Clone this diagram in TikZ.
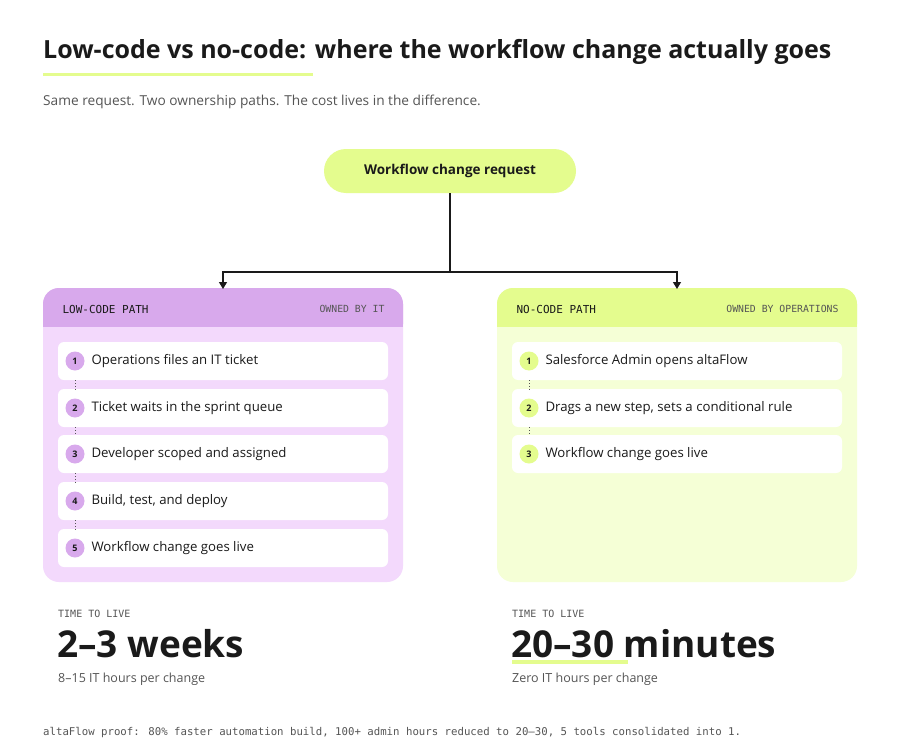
\documentclass[tikz,border=0pt]{standalone}
\usepackage{fontspec}
\setmainfont{Open Sans}
\newfontfamily\monof{DejaVu Sans Mono}
\usetikzlibrary{arrows.meta}
\definecolor{lime}{HTML}{E4FC8E}
\definecolor{limebody}{HTML}{F5FFD6}
\definecolor{purp}{HTML}{D8A9EC}
\definecolor{purpbody}{HTML}{F3D9FC}
\definecolor{txt}{HTML}{1A1A1A}
\definecolor{grayt}{HTML}{555555}
\tikzset{
  card/.style={fill=white,rounded corners=6pt,minimum width=330pt,minimum height=38pt,inner sep=0pt},
  num/.style={circle,minimum size=19pt,inner sep=0pt,font=\fontsize{9}{9}\selectfont\bfseries,text=txt},
  steptext/.style={anchor=west,font=\fontsize{13.2}{13}\selectfont,text=txt},
  hdr/.style={font=\monof\fontsize{11}{10}\selectfont,text=txt},
  hdrr/.style={font=\monof\fontsize{9.8}{9}\selectfont,text=grayt},
  dots/.style={draw=grayt,dotted,line width=0.8pt},
  conn/.style={draw=txt,line width=1.2pt},
}
\begin{document}
\begin{tikzpicture}[x=1pt,y=-1pt]
\useasboundingbox[fill=white] (0,0) rectangle (900,752);
\node[anchor=base west,font=\fontsize{25}{25}\selectfont\bfseries,text=txt,inner sep=0pt] (title) at (43,59) {Low-code vs no-code: where the workflow change actually goes};
\fill[lime] (43,73.5) rectangle (313,76.5);
\node[anchor=base west,font=\fontsize{13.7}{14}\selectfont,text=grayt,inner sep=0pt] (sub) at (43,106) {Same request. Two ownership paths. The cost lives in the difference.};
\node[fill=lime,rounded corners=22pt,minimum width=252pt,minimum height=44pt,font=\fontsize{13.5}{13}\selectfont\bfseries,text=txt] (req) at (450,171) {Workflow change request};
\coordinate (j) at (450,272);
\coordinate (l) at (223,272);
\coordinate (r) at (677,272);
\fill[purpbody,rounded corners=16pt] (43,288) rectangle (403,582);
\fill[purp,rounded corners=16pt] (43,288) rectangle (403,340);
\fill[purp] (43,315) rectangle (403,327);
\fill[purpbody] (43,327) rectangle (403,345);
\fill[limebody,rounded corners=16pt] (497,288) rectangle (857,582);
\fill[lime,rounded corners=16pt] (497,288) rectangle (857,340);
\fill[lime] (497,315) rectangle (857,327);
\fill[limebody] (497,327) rectangle (857,345);
\coordinate (lp) at (223,289);
\coordinate (rp) at (677,289);
\draw[conn] (req.south) -- (j);
\draw[conn,-{Triangle[length=7pt,width=8pt]}] (j) -- (l) -- (lp);
\draw[conn,-{Triangle[length=7pt,width=8pt]}] (j) -- (r) -- (rp);
\node[hdr,anchor=west] (lh) at (59,309) {LOW-CODE PATH};
\node[hdrr,anchor=east] (lo) at (388,309) {OWNED BY IT};
\node[hdr,anchor=west] (rh) at (513,309) {NO-CODE PATH};
\node[hdrr,anchor=east] (ro) at (842,309) {OWNED BY OPERATIONS};
\foreach \i/\y/\t in {1/361/Operations files an IT ticket,2/408/Ticket waits in the sprint queue,3/454/Developer scoped and assigned,4/501/{Build, test, and deploy},5/548/Workflow change goes live}{
  \node[card] (lc\i) at (223,\y) {};
  \node[num,fill=purp] (ln\i) at (75,\y) {\i};
  \node[steptext] (lt\i) at (88,\y) {\t};
}
\foreach \a/\b in {1/2,2/3,3/4,4/5}{\draw[dots] (ln\a.south|-lc\a.south) -- (ln\b.north|-lc\b.north);}
\foreach \i/\y/\t in {1/361/Salesforce Admin opens altaFlow,2/408/{Drags a new step, sets a conditional rule},3/454/Workflow change goes live}{
  \node[card] (rc\i) at (677,\y) {};
  \node[num,fill=lime] (rn\i) at (529,\y) {\i};
  \node[steptext] (rt\i) at (542,\y) {\t};
}
\foreach \a/\b in {1/2,2/3}{\draw[dots] (rn\a.south|-rc\a.south) -- (rn\b.north|-rc\b.north);}
\node[anchor=base west,inner sep=0pt,font=\monof\fontsize{10}{10}\selectfont,text=grayt] (ltl) at (58,617) {TIME TO LIVE};
\node[anchor=base west,inner sep=0pt,font=\fontsize{37}{37}\selectfont\bfseries,text=txt] (lbig) at (57,657) {2–3 weeks};
\node[anchor=base west,inner sep=0pt,font=\fontsize{12.5}{12.5}\selectfont,text=grayt] (lsm) at (58,682) {8–15 IT hours per change};
\fill[lime] (512,660) rectangle (628,664);
\node[anchor=base west,inner sep=0pt,font=\monof\fontsize{10}{10}\selectfont,text=grayt] (rtl) at (512,617) {TIME TO LIVE};
\node[anchor=base west,inner sep=0pt,font=\fontsize{37}{37}\selectfont\bfseries,text=txt] (rbig) at (511,657) {20–30 minutes};
\node[anchor=base west,inner sep=0pt,font=\fontsize{12.5}{12.5}\selectfont,text=grayt] (rsm) at (512,682) {Zero IT hours per change};
\node[anchor=base west,inner sep=0pt,font=\monof\fontsize{10.7}{10}\selectfont,text=grayt] (foot) at (43,735) {altaFlow proof: 80\% faster automation build, 100+ admin hours reduced to 20–30, 5 tools consolidated into 1.};
\end{tikzpicture}
\end{document}
